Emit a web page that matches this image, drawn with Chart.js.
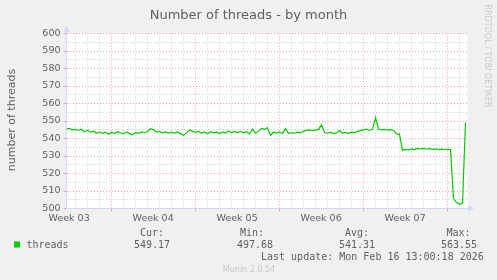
<!DOCTYPE html>
<html>
<head>
<meta charset="utf-8">
<title>Number of threads - by month</title>
<script src="https://cdn.jsdelivr.net/npm/chart.js@4.4.1/dist/chart.umd.min.js"></script>
<style>
  html, body { margin: 0; padding: 0; background: #f0f0f0; }
</style>
</head>
<body>
<canvas id="graph" width="497" height="280"></canvas>
<script>
// one sample every 6 hours, starting at the left edge of the graph
var stepDays = 0.25;
var threads = [
  545.5, 545.8, 544.9, 545.2, 544.6, 545.3, 543.9, 544.8, 543.6, 544.2,
  543.1, 543.8, 542.9, 543.6, 542.4, 543.5, 543.0, 543.9, 543.2, 542.6,
  543.7, 542.8, 542.1, 543.4, 543.0, 543.8, 543.3, 544.0, 545.6, 545.0,
  543.6, 544.1, 543.2, 543.8, 543.1, 543.6, 542.9, 543.7, 542.8, 541.8,
  543.2, 544.8, 544.2, 543.5, 544.0, 543.1, 543.7, 542.7, 543.9, 543.2,
  543.6, 542.8, 543.8, 543.1, 544.3, 543.4, 544.0, 543.3, 544.1, 543.2,
  543.9, 542.6, 545.4, 543.0, 544.2, 545.8, 545.2, 546.1, 541.9, 543.6,
  543.1, 543.8, 542.9, 545.6, 542.8, 543.4, 543.0, 543.6, 543.2, 544.1,
  544.6, 544.9, 544.5, 544.8, 545.2, 547.8, 543.4, 543.0, 543.6, 542.8,
  543.3, 544.6, 543.1, 543.5, 542.9, 543.6, 543.4, 544.1, 544.5, 544.9,
  545.3, 544.6, 545.2, 551.8, 545.3, 544.9, 545.2, 544.8, 545.1, 544.6,
  542.6, 542.4,
  533.2, 533.8, 533.4, 534.1, 533.7, 534.3, 533.9, 534.4, 534.0, 534.2,
  533.8, 534.1, 533.7, 533.9, 533.6, 533.8, 533.7,
  505.8, 503.4, 502.4, 503.0, 549.2
];

var weekLabels = ["Week 03", "Week 04", "Week 05", "Week 06", "Week 07"];
var firstWeekStart = -3.28;   // Monday of week 03, in days from the left edge
var spanDays = 33.4167;
var yMin = 500, yMax = 600;

var statNames = ["Cur:", "Min:", "Avg:", "Max:"];
var statValues = ["549.17", "497.68", "541.31", "563.55"];
var lastUpdate = "Last update: Mon Feb 16 13:00:18 2026";

var MAJOR = '#eaa3a3';
var MINOR = '#cbcbcb';
var AXIS = '#cfd6f8';
var FONT = '#606060';

// x ticks: a dotted line every day, a red one every week, labels in mid-week
var xTicks = [];
for (var k = 0; k < 40; k++) {
  var d = firstWeekStart + k;
  if (d > 0 && d < spanDays) xTicks.push({ value: d, kind: (k % 7 === 0) ? 'week' : 'day', label: '' });
}
for (var w = 0; w < weekLabels.length; w++) {
  xTicks.push({ value: firstWeekStart + 7 * w + 3.5, kind: 'label', label: weekLabels[w] });
}

var points = threads.map(function (v, i) { return { x: i * stepDays, y: v }; });

var munin = {
  id: 'munin',
  beforeDraw: function (chart) {
    var c = chart.ctx, a = chart.chartArea;
    c.save();
    c.fillStyle = '#f0f0f0';
    c.fillRect(0, 0, chart.width, chart.height);
    c.fillStyle = '#ffffff';
    c.fillRect(a.left, a.top, a.right - a.left, a.bottom - a.top);
    c.restore();
  },
  afterDraw: function (chart) {
    var c = chart.ctx, a = chart.chartArea;
    c.save();
    // axis arrows
    c.strokeStyle = AXIS;
    c.fillStyle = AXIS;
    c.lineWidth = 1;
    c.beginPath();
    c.moveTo(a.right, 208.5); c.lineTo(470, 208.5);
    c.moveTo(66.5, a.top); c.lineTo(66.5, 29);
    c.stroke();
    c.beginPath();
    c.moveTo(468, 205.5); c.lineTo(474, 208.5); c.lineTo(468, 211.5); c.closePath();
    c.fill();
    c.beginPath();
    c.moveTo(63.5, 31.5); c.lineTo(66.5, 25.5); c.lineTo(69.5, 31.5); c.closePath();
    c.fill();

    c.fillStyle = FONT;
    c.textBaseline = 'alphabetic';
    c.textAlign = 'center';
    c.font = "13px 'DejaVu Sans'";
    c.fillText('Number of threads - by month', 248.5, 18.5);

    c.save();
    c.translate(15, 120);
    c.rotate(-Math.PI / 2);
    c.font = "11px 'DejaVu Sans'";
    c.fillText('number of threads', 0, 0);
    c.restore();

    c.save();
    c.translate(485, 56);
    c.rotate(Math.PI / 2);
    c.fillStyle = '#c8c8c8';
    c.font = "8px 'DejaVu Sans'";
    c.fillText('RRDTOOL / TOBI OETIKER', 0, 0);
    c.restore();

    // legend
    c.fillStyle = chart.data.datasets[0].borderColor;
    c.fillRect(14, 241.5, 6, 6);
    c.fillStyle = FONT;
    c.textAlign = 'left';
    c.font = "10px 'DejaVu Sans Mono'";
    c.fillText(chart.data.datasets[0].label, 26.5, 248);
    var headX = [140, 240, 345, 446.5];
    var valX = [134, 237, 339, 441];
    for (var i = 0; i < statNames.length; i++) {
      c.fillText(statNames[i], headX[i], 235.5);
      c.fillText(statValues[i], valX[i], 248);
    }
    c.fillText(lastUpdate, 261, 260);

    c.textAlign = 'center';
    c.fillStyle = '#c8c8c8';
    c.font = "8px 'DejaVu Sans'";
    c.fillText('Munin 2.0.54', 249, 271.5);
    c.restore();
  }
};

new Chart(document.getElementById('graph'), {
  type: 'line',
  data: {
    datasets: [{
      label: 'threads',
      data: points,
      borderColor: '#00cc00',
      borderWidth: 1.2,
      pointRadius: 0,
      tension: 0,
      fill: false
    }]
  },
  options: {
    responsive: false,
    animation: false,
    devicePixelRatio: 1,
    layout: { padding: { left: 0, right: 29.5, top: 33.5, bottom: 55.5 } },
    plugins: { legend: { display: false }, tooltip: { enabled: false }, title: { display: false } },
    scales: {
      x: {
        type: 'linear',
        min: 0,
        max: spanDays,
        bounds: 'data',
        afterBuildTicks: function (scale) {
          scale.ticks = xTicks.map(function (t) { return { value: t.value }; });
        },
        afterFit: function (scale) { scale.height = 16; },
        ticks: {
          autoSkip: false,
          maxRotation: 0,
          padding: 1,
          color: FONT,
          font: { family: "'DejaVu Sans'", size: 9.5 },
          callback: function (value, index) { return xTicks[index] ? xTicks[index].label : ''; }
        },
        grid: {
          lineWidth: 1,
          tickLength: 3,
          color: function (c) {
            var t = xTicks[c.index];
            if (!t) return MINOR;
            if (t.kind === 'label') return 'rgba(0,0,0,0)';
            return t.kind === 'week' ? MAJOR : MINOR;
          },
          tickColor: function (c) {
            var t = xTicks[c.index];
            return (t && t.kind === 'week') ? MAJOR : 'rgba(0,0,0,0)';
          }
        },
        border: { display: true, color: AXIS, width: 1, dash: [1, 2] }
      },
      y: {
        type: 'linear',
        min: yMin,
        max: yMax,
        afterFit: function (scale) { scale.width = 66.5; },
        ticks: {
          stepSize: 5,
          autoSkip: false,
          padding: 3,
          color: FONT,
          font: { family: "'DejaVu Sans'", size: 9.5 },
          callback: function (value) { return value % 10 === 0 ? String(value) : ''; }
        },
        grid: {
          lineWidth: 1,
          tickLength: 3,
          color: function (c) { return (c.tick && c.tick.value % 10 === 0) ? MAJOR : MINOR; },
          tickColor: function (c) { return (c.tick && c.tick.value % 10 === 0) ? MAJOR : 'rgba(0,0,0,0)'; }
        },
        border: { display: true, color: AXIS, width: 1, dash: [1, 2] }
      }
    }
  },
  plugins: [munin]
});
</script>
</body>
</html>
